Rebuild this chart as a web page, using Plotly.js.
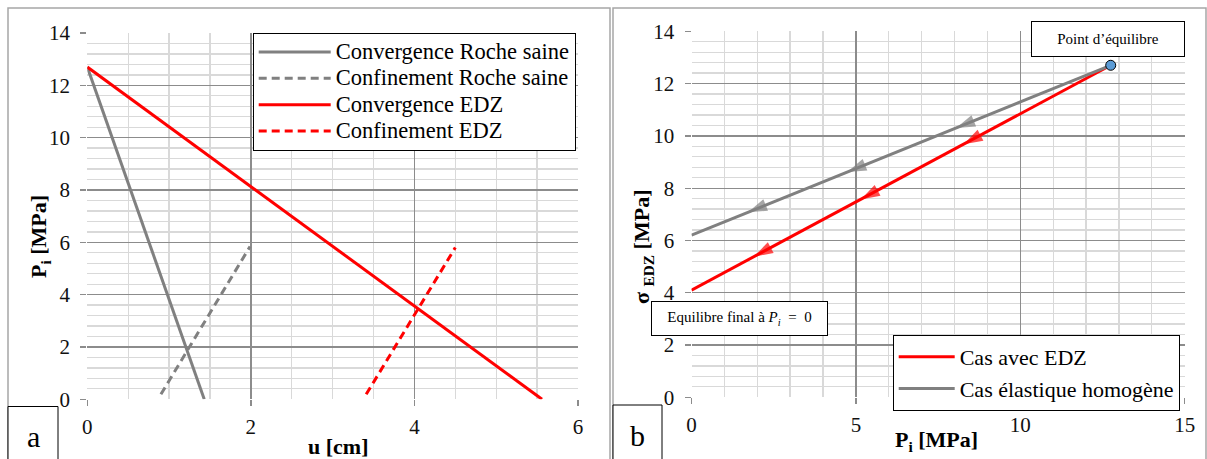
<!DOCTYPE html>
<html><head><meta charset="utf-8">
<script src="https://cdn.plot.ly/plotly-3.0.1.min.js"></script>
<style>html,body{margin:0;padding:0;background:#fff;overflow:hidden}</style>
</head><body><div id="chart" style="width:1207px;height:459px"></div>
<script>
// ---- Panel a : u [cm] vs Pi [MPa]
const uRocheConv = [0, 1.43];
const pRocheConv = [12.7, 0];
const uRocheConf = [0.9, 1.99];
const pRocheConf = [0.19, 5.84];
const uEdzConv = [0, 5.56];
const pEdzConv = [12.7, 0];
const uEdzConf = [3.41, 4.5];
const pEdzConf = [0.19, 5.8];
// ---- Panel b : Pi [MPa] vs sigma EDZ [MPa] (ordered from equilibrium point down to Pi = 0)
const piEdz = [12.75, 8.28, 5.15, 1.9, 0];
const sigEdz = [12.7, 9.68, 7.57, 5.38, 4.1];
const piHom = [12.75, 8.05, 4.74, 1.72, 0];
const sigHom = [12.7, 10.3, 8.62, 7.08, 6.2];
const arrowSizes = [0, 20, 20, 20, 0];
const eqPi = [12.75];
const eqSig = [12.7];
const namesA = ['Convergence Roche saine', 'Confinement Roche saine', 'Convergence EDZ', 'Confinement EDZ'];
const namesB = ['Cas avec EDZ', 'Cas élastique homogène'];

const W = 1207, H = 459;
const px = x => x / W, py = y => 1 - y / H;
const FONT = 'Liberation Serif';
const RED = '#ff0000', GRAY = '#808080';
const big = s => '<span style="font-size:22.5px">' + s + '</span>';

const traces = [
  {x: uRocheConv, y: pRocheConv, name: big(namesA[0]), mode: 'lines', line: {color: GRAY, width: 3}, xaxis: 'x', yaxis: 'y', legend: 'legend'},
  {x: uRocheConf, y: pRocheConf, name: big(namesA[1]), mode: 'lines', line: {color: GRAY, width: 3, dash: '8px,5px'}, xaxis: 'x', yaxis: 'y', legend: 'legend'},
  {x: uEdzConv, y: pEdzConv, name: big(namesA[2]), mode: 'lines', line: {color: RED, width: 3}, xaxis: 'x', yaxis: 'y', legend: 'legend'},
  {x: uEdzConf, y: pEdzConf, name: big(namesA[3]), mode: 'lines', line: {color: RED, width: 3, dash: '8px,5px'}, xaxis: 'x', yaxis: 'y', legend: 'legend'},
  {x: piEdz, y: sigEdz, name: namesB[0], mode: 'lines', line: {color: RED, width: 3}, xaxis: 'x2', yaxis: 'y2', legend: 'legend2'},
  {x: piHom, y: sigHom, name: namesB[1], mode: 'lines', line: {color: GRAY, width: 3}, xaxis: 'x2', yaxis: 'y2', legend: 'legend2'},
  {x: piEdz, y: sigEdz, mode: 'markers', showlegend: false, hoverinfo: 'skip', xaxis: 'x2', yaxis: 'y2',
   marker: {symbol: 'arrow', angleref: 'previous', size: arrowSizes, color: RED, line: {width: 0}}},
  {x: piHom, y: sigHom, mode: 'markers', showlegend: false, hoverinfo: 'skip', xaxis: 'x2', yaxis: 'y2',
   marker: {symbol: 'arrow', angleref: 'previous', size: arrowSizes, color: GRAY, line: {width: 0}}},
  {x: eqPi, y: eqSig, mode: 'markers', showlegend: false, xaxis: 'x2', yaxis: 'y2',
   marker: {symbol: 'circle', size: 10, color: '#5b9bd5', line: {color: '#000', width: 1}}}
];

function ax(domain, range, dtick, minorDtick, anchor) {
  return {
    domain: domain, range: range, dtick: dtick, tick0: 0, anchor: anchor,
    showgrid: true, gridcolor: '#8c8c8c', gridwidth: 1.3,
    minor: {dtick: minorDtick, tick0: 0, showgrid: true, gridcolor: '#d9d9d9', gridwidth: 1.3},
    ticks: 'outside', ticklen: 6, tickcolor: '#8c8c8c', tickwidth: 1.3,
    zeroline: false, showline: false, fixedrange: true, automargin: false,
    tickfont: {family: FONT, size: 21, color: '#111'}
  };
}

function note(text, x, y, size, extra) {
  return Object.assign({text: text, xref: 'paper', yref: 'paper', x: px(x), y: py(y),
    xanchor: 'center', yanchor: 'middle', showarrow: false, font: {family: FONT, size: size, color: '#000'}}, extra || {});
}

const layout = {
  width: W, height: H,
  margin: {l: 0, r: 0, t: 0, b: 0},
  paper_bgcolor: '#fff', plot_bgcolor: '#fff',
  font: {family: FONT, color: '#000'},
  xaxis: Object.assign(ax([px(87.3), px(578)], [0, 6], 2, 0.5, 'y'), {ticklabelstandoff: 2}),
  yaxis: Object.assign(ax([py(399.3), py(33)], [0, 14], 2, 0.4, 'x'), {ticklabelstandoff: 6}),
  xaxis2: Object.assign(ax([px(691.5), px(1184.7)], [0, 15], 5, 1, 'y2'), {ticklabelstandoff: 2}),
  yaxis2: Object.assign(ax([py(397.3), py(31.3)], [0, 14], 2, 0.4, 'x2'), {ticklabelstandoff: 6}),
  showlegend: true,
  legend: {x: px(252.7), y: py(32.7), xanchor: 'left', yanchor: 'top', bgcolor: '#fff',
    bordercolor: '#000', borderwidth: 1, font: {family: FONT, size: 18, color: '#000'}, itemwidth: 72, tracegroupgap: 0},
  legend2: {x: px(892.7), y: py(335), xanchor: 'left', yanchor: 'top', bgcolor: '#fff',
    bordercolor: '#000', borderwidth: 1, font: {family: FONT, size: 22, color: '#000'}, itemwidth: 56, tracegroupgap: 0},
  shapes: [
    {type: 'rect', xref: 'paper', yref: 'paper', x0: px(8), x1: px(610), y0: py(480), y1: py(8), line: {color: '#a6a6a6', width: 1.5}},
    {type: 'rect', xref: 'paper', yref: 'paper', x0: px(613), x1: px(1206), y0: py(480), y1: py(8), line: {color: '#a6a6a6', width: 1.5}},
    {type: 'rect', xref: 'paper', yref: 'paper', x0: px(8), x1: px(58), y0: py(480), y1: py(406.5), line: {color: '#000', width: 1}, fillcolor: '#fff'},
    {type: 'rect', xref: 'paper', yref: 'paper', x0: px(613), x1: px(662), y0: py(480), y1: py(405), line: {color: '#000', width: 1}, fillcolor: '#fff'}
  ],
  annotations: [
    note('<b>P<sub>i</sub> [MPa]</b>', 40, 237, 22, {textangle: -90}),
    note('<b>u [cm]</b>', 338, 446, 22),
    note('<b>σ <sub>EDZ</sub> [MPa]</b>', 643, 247, 22, {textangle: -90}),
    note('<b>P<sub>i</sub> [MPa]</b>', 937, 441, 22),
    note('a', 33, 436, 30),
    note('b', 637.5, 435, 30),
    note('Point d’équilibre', 1108, 39, 15, {width: 150, height: 32, bgcolor: '#fff', bordercolor: '#000', borderwidth: 1}),
    note('Equilibre final à <i>P<sub>i</sub></i>  =  0', 739, 318.5, 15, {width: 173, height: 31, bgcolor: '#fff', bordercolor: '#000', borderwidth: 1})
  ]
};

Plotly.newPlot('chart', traces, layout, {displayModeBar: false, staticPlot: true});
</script></body></html>
